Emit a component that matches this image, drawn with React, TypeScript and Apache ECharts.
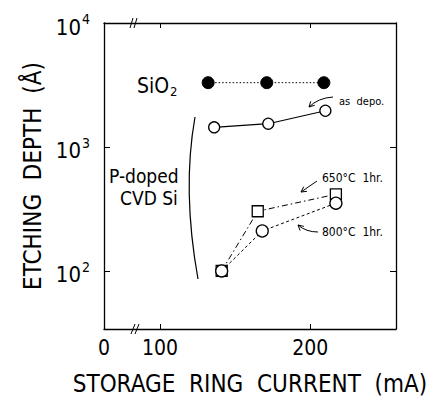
import React, { useEffect, useRef } from "react";
import * as echarts from "echarts";

// ---- data ----
const CURRENT_SIO2 = [132, 171, 209];
const DEPTH_SIO2 = [3300, 3300, 3300];
const CURRENT_ASDEPO = [136, 172, 210];
const DEPTH_ASDEPO = [1440, 1540, 1960];
const CURRENT_650 = [141, 165, 217];
const DEPTH_650 = [100, 303, 415];
const CURRENT_800 = [141, 168, 217];
const DEPTH_800 = [100, 210, 352];
const X_TICKS = [100, 200];
const Y_TICKS = [100, 1000, 10000];

const X_MIN = 62.7; // position shown as "0" across the axis break
const X_MAX = 257;
const Y_MIN = 34;
const Y_MAX = 10000;

const FONT = "'DejaVu Sans Condensed', 'Liberation Sans Narrow', 'DejaVu Sans', sans-serif";

const pairs = (xs: number[], ys: number[]) => xs.map((x, i) => [x, ys[i]]);

function arrowHead(tip: [number, number], from: [number, number]) {
  const dx = tip[0] - from[0];
  const dy = tip[1] - from[1];
  const len = Math.hypot(dx, dy);
  const ux = dx / len, uy = dy / len;
  const L = 6, a = (28 * Math.PI) / 180;
  const w = (s: number) => {
    const c = Math.cos(s * a), sn = Math.sin(s * a);
    const rx = ux * c - uy * sn, ry = ux * sn + uy * c;
    return [tip[0] - rx * L, tip[1] - ry * L];
  };
  return {
    type: "polyline",
    shape: { points: [w(1), tip, w(-1)] },
    style: { stroke: "#000", lineWidth: 1, fill: null },
    silent: true,
  };
}

export default function App() {
  const ref = useRef<HTMLDivElement>(null);
  useEffect(() => {
    const chart = echarts.init(ref.current!, null, { renderer: "svg" });
    const yFmt = (v: number) => `{b|10}{s|${Math.round(Math.log10(v))}}`;
    const option: any = {
      animation: false,
      backgroundColor: "#fff",
      grid: { left: 104, top: 23, right: 35, bottom: 68, outerBoundsMode: "none", containLabel: false },
      xAxis: [
        {
          type: "value",
          min: X_MIN,
          max: X_MAX,
          position: "bottom",
          splitLine: { show: false },
          axisLine: { lineStyle: { color: "#000", width: 1.3 } },
          axisTick: { inside: true, length: 5, customValues: X_TICKS, lineStyle: { color: "#000" } },
          axisLabel: {
            customValues: [X_MIN, ...X_TICKS],
            formatter: (v: number) => (v < 90 ? "0" : String(Math.round(v))),
            color: "#000",
            fontFamily: FONT,
            fontSize: 21,
            margin: 8,
          },
          name: "STORAGE  RING  CURRENT  (mA)",
          nameLocation: "middle",
          nameGap: 43,
          nameTextStyle: { color: "#000", fontFamily: FONT, fontSize: 24 },
        },
        {
          type: "value",
          min: X_MIN,
          max: X_MAX,
          position: "top",
          splitLine: { show: false },
          axisLine: { lineStyle: { color: "#000", width: 1.3 } },
          axisTick: { inside: true, length: 5, customValues: X_TICKS, lineStyle: { color: "#000" } },
          axisLabel: { show: false },
        },
      ],
      yAxis: [
        {
          type: "log",
          logBase: 10,
          min: Y_MIN,
          max: Y_MAX,
          position: "left",
          splitLine: { show: false },
          minorTick: { show: false },
          axisLine: { show: true, lineStyle: { color: "#000", width: 1.3 } },
          axisTick: { inside: true, length: 6, customValues: Y_TICKS, lineStyle: { color: "#000" } },
          axisLabel: {
            customValues: Y_TICKS,
            formatter: yFmt,
            margin: 14,
            rich: {
              b: { fontFamily: FONT, fontSize: 22, color: "#000", padding: [8, 0, 0, 0] },
              s: { fontFamily: FONT, fontSize: 14, color: "#000", padding: [0, 0, 8, 1] },
            },
          },
          name: "ETCHING  DEPTH  (Å)",
          nameLocation: "middle",
          nameGap: 58,
          nameRotate: 90,
          nameTextStyle: { color: "#000", fontFamily: FONT, fontSize: 24 },
        },
        {
          type: "log",
          logBase: 10,
          min: Y_MIN,
          max: Y_MAX,
          position: "right",
          splitLine: { show: false },
          minorTick: { show: false },
          axisLine: { show: true, lineStyle: { color: "#000", width: 1.3 } },
          axisTick: { inside: true, length: 6, customValues: [100, 1000], lineStyle: { color: "#000" } },
          axisLabel: { show: false },
        },
      ],
      series: [
        {
          type: "line",
          name: "SiO2",
          data: pairs(CURRENT_SIO2, DEPTH_SIO2),
          symbol: "circle",
          symbolSize: 12,
          itemStyle: { color: "#000", borderColor: "#000" },
          lineStyle: { color: "#000", width: 1, type: [1.5, 2] },
        },
        {
          type: "line",
          name: "as depo.",
          data: pairs(CURRENT_ASDEPO, DEPTH_ASDEPO),
          symbol: "circle",
          symbolSize: 11,
          itemStyle: { color: "#fff", borderColor: "#000", borderWidth: 1.3 },
          lineStyle: { color: "#000", width: 1.2 },
        },
        {
          type: "line",
          name: "650C",
          data: pairs(CURRENT_650, DEPTH_650),
          symbol: "rect",
          symbolSize: 11,
          itemStyle: { color: "#fff", borderColor: "#000", borderWidth: 1.3 },
          lineStyle: { color: "#000", width: 1, type: [6, 3, 1.5, 3] },
          z: 3,
        },
        {
          type: "line",
          name: "800C",
          data: pairs(CURRENT_800, DEPTH_800),
          symbol: "circle",
          symbolSize: 12,
          itemStyle: { color: "#fff", borderColor: "#000", borderWidth: 1.3 },
          lineStyle: { color: "#000", width: 1, type: [3, 2.5] },
          z: 4,
        },
      ],
      graphic: [
        // axis breaks
        { type: "rect", shape: { x: 132, y: 325, width: 6, height: 8 }, style: { fill: "#fff" }, silent: true },
        { type: "line", shape: { x1: 131, y1: 334, x2: 135, y2: 324 }, style: { stroke: "#000", lineWidth: 1 }, silent: true },
        { type: "line", shape: { x1: 135, y1: 334, x2: 139, y2: 324 }, style: { stroke: "#000", lineWidth: 1 }, silent: true },
        { type: "rect", shape: { x: 131, y: 19, width: 5, height: 8 }, style: { fill: "#fff" }, silent: true },
        { type: "line", shape: { x1: 130, y1: 28, x2: 133, y2: 18 }, style: { stroke: "#000", lineWidth: 1 }, silent: true },
        { type: "line", shape: { x1: 134, y1: 28, x2: 137, y2: 18 }, style: { stroke: "#000", lineWidth: 1 }, silent: true },
        // labels
        {
          type: "text",
          x: 137,
          y: 86,
          style: {
            text: "{a|SiO}{b|2}",
            verticalAlign: "middle",
            rich: {
              a: { fontFamily: FONT, fontSize: 21, fill: "#000" },
              b: { fontFamily: FONT, fontSize: 13, fill: "#000", padding: [10, 0, 0, 1] },
            },
          },
          silent: true,
        },
        {
          type: "text",
          x: 109,
          y: 176,
          style: { text: "P-doped", fontFamily: FONT, fontSize: 19, fill: "#000", verticalAlign: "middle" },
          silent: true,
        },
        {
          type: "text",
          x: 120,
          y: 198,
          style: { text: "CVD Si", fontFamily: FONT, fontSize: 19, fill: "#000", verticalAlign: "middle" },
          silent: true,
        },
        {
          type: "bezierCurve",
          shape: { x1: 195, y1: 117, cpx1: 182, cpy1: 190, x2: 198, y2: 279 },
          style: { stroke: "#000", lineWidth: 1.2, fill: null },
          silent: true,
        },
        // annotations
        {
          type: "text",
          x: 339,
          y: 101,
          style: { text: "as  depo.", fontFamily: FONT, fontSize: 11, fill: "#000", verticalAlign: "middle" },
          silent: true,
        },
        {
          type: "bezierCurve",
          shape: { x1: 333, y1: 97, cpx1: 318, cpy1: 98, x2: 309, y2: 107 },
          style: { stroke: "#000", lineWidth: 1, fill: null },
          silent: true,
        },
        arrowHead([309, 107], [318, 98]),
        {
          type: "text",
          x: 322,
          y: 178,
          style: { text: "650°C  1hr.", fontFamily: FONT, fontSize: 12, fill: "#000", verticalAlign: "middle" },
          silent: true,
        },
        {
          type: "line",
          shape: { x1: 317, y1: 181, x2: 301, y2: 192 },
          style: { stroke: "#000", lineWidth: 1 },
          silent: true,
        },
        arrowHead([301, 192], [317, 181]),
        {
          type: "text",
          x: 322,
          y: 232,
          style: { text: "800°C  1hr.", fontFamily: FONT, fontSize: 12, fill: "#000", verticalAlign: "middle" },
          silent: true,
        },
        {
          type: "bezierCurve",
          shape: { x1: 318, y1: 232, cpx1: 306, cpy1: 232, x2: 298, y2: 225 },
          style: { stroke: "#000", lineWidth: 1, fill: null },
          silent: true,
        },
        arrowHead([298, 225], [306, 232]),
      ],
    };
    chart.setOption(option);
    return () => chart.dispose();
  }, []);
  return (
    <div
      ref={ref}
      style={{ position: "fixed", left: 0, top: 0, width: 431, height: 397, background: "#fff" }}
    />
  );
}
